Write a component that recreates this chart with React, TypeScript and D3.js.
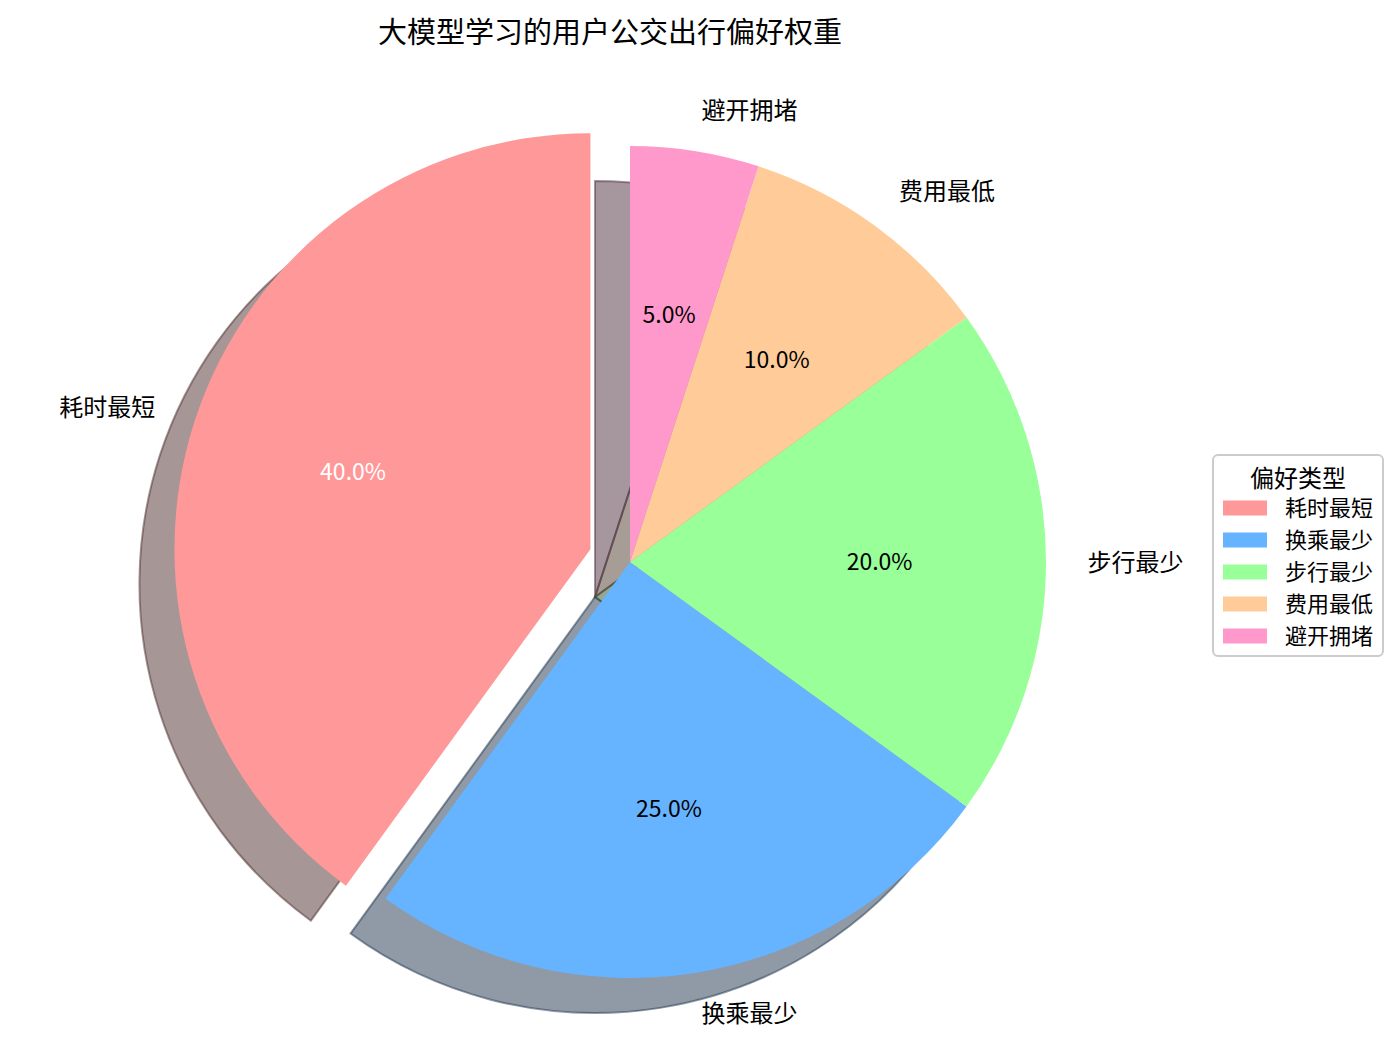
import React from 'react';
import * as d3 from 'd3';

const categories = ['耗时最短', '换乘最少', '步行最少', '费用最低', '避开拥堵'];
const values = [40, 25, 20, 10, 5];
const colors = ['#ff9999', '#66b3ff', '#99ff99', '#ffcc99', '#ff99cc'];
const explode = [0.1, 0, 0, 0, 0];
const pctColors = ['#ffffff', '#000000', '#000000', '#000000', '#000000'];
const chartTitle = '大模型学习的用户公交出行偏好权重';
const legendTitle = '偏好类型';

const W = 1400;
const H = 1043;
const cx = 630;
const cy = 562;
const R = 416;
const shadowDx = -35;
const shadowDy = 35;
const TY = -2;
const FONT = '"Noto Sans CJK SC", "Noto Sans", sans-serif';

function shadowColor(c: string) {
  const rgb = d3.rgb(c);
  return d3.rgb(rgb.r * 0.3, rgb.g * 0.3, rgb.b * 0.3).formatHex();
}

export default function App() {
  const pie = d3
    .pie<number>()
    .sort(null)
    .value((d) => d)
    .startAngle(0)
    .endAngle(-2 * Math.PI);
  const arcs = pie(values);
  const arc = d3.arc<any>().innerRadius(0).outerRadius(R);
  const total = d3.sum(values);

  const items = arcs.map((a, i) => {
    const mid = (a.startAngle + a.endAngle) / 2;
    const ex = Math.sin(mid) * explode[i] * R;
    const ey = -Math.cos(mid) * explode[i] * R;
    return { a, i, mid, ex, ey };
  });

  const legendX = 1213;
  const legendY = 455;
  const legendW = 170;
  const legendH = 201;

  return (
    <div>
      <style>{`body{margin:0;}`}</style>
      <svg width={W} height={H} style={{ display: 'block', background: '#fff' }} fontFamily={FONT}>
        <text x={610} y={32 + TY} textAnchor="middle" dominantBaseline="central" fontSize={29} fill="#000">
          {chartTitle}
        </text>
        {/* shadows */}
        <g>
          {items.map(({ a, i, ex, ey }) => {
            const sc = shadowColor(colors[i]);
            return (
              <path
                key={'s' + i}
                d={arc(a) as string}
                transform={`translate(${cx + ex + shadowDx},${cy + ey + shadowDy})`}
                fill={sc}
                fillOpacity={0.5}
                stroke={sc}
                strokeOpacity={0.5}
                strokeWidth={2}
                strokeLinejoin="miter"
              />
            );
          })}
        </g>
        {/* wedges */}
        <g>
          {items.map(({ a, i, ex, ey }) => (
            <path key={'w' + i} d={arc(a) as string} transform={`translate(${cx + ex},${cy + ey})`} fill={colors[i]} />
          ))}
        </g>
        {/* labels */}
        <g>
          {items.map(({ i, mid, ex, ey }) => {
            const lx = cx + ex + Math.sin(mid) * 1.1 * R;
            const ly = cy + ey - Math.cos(mid) * 1.1 * R;
            const px = cx + ex + Math.sin(mid) * 0.6 * R;
            const py = cy + ey - Math.cos(mid) * 0.6 * R;
            return (
              <g key={'l' + i}>
                <text
                  x={lx}
                  y={ly + TY}
                  textAnchor={Math.sin(mid) > 0 ? 'start' : 'end'}
                  dominantBaseline="central"
                  fontSize={24}
                  fill="#000"
                >
                  {categories[i]}
                </text>
                <text x={px} y={py + TY} textAnchor="middle" dominantBaseline="central" fontSize={23} fill={pctColors[i]}>
                  {((values[i] / total) * 100).toFixed(1) + '%'}
                </text>
              </g>
            );
          })}
        </g>
        {/* legend */}
        <g>
          <rect
            x={legendX}
            y={legendY}
            width={legendW}
            height={legendH}
            rx={5}
            ry={5}
            fill="#ffffff"
            fillOpacity={0.8}
            stroke="#cccccc"
            strokeWidth={2}
          />
          <text
            x={legendX + legendW / 2}
            y={478 + TY}
            textAnchor="middle"
            dominantBaseline="central"
            fontSize={24}
            fill="#000"
          >
            {legendTitle}
          </text>
          {categories.map((c, i) => (
            <g key={'lg' + i}>
              <rect x={1223} y={508 + 32 * i - 7.5} width={44} height={15} fill={colors[i]} />
              <text x={1285} y={508 + 32 * i + TY} dominantBaseline="central" fontSize={22} fill="#000">
                {c}
              </text>
            </g>
          ))}
        </g>
      </svg>
    </div>
  );
}
